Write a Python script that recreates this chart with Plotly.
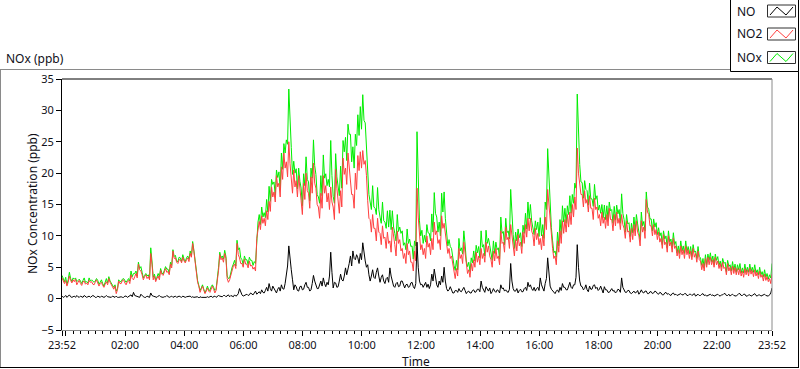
import pandas as pd
import plotly.graph_objects as go

# ---------------- data (2.5-minute readings, starting 23:52) ----------------
start_time = "2016-01-01 23:52"
step_seconds = 150

# NO2 (ppb), one row per hour (24 readings)
no2_ppb = [
    3.3, 2.8, 2.4, 2.9, 2.0, 2.6, 3.6, 2.9, 2.5, 3.0, 2.7, 3.1, 2.2, 2.6, 2.9, 2.4, 2.1, 2.7, 2.8, 2.3, 2.5, 2.2, 2.9, 2.6,
    2.7, 2.3, 2.2, 2.6, 3.0, 2.5, 2.0, 2.4, 2.6, 2.1, 1.8, 2.3, 2.7, 2.2, 3.2, 2.6, 2.3, 1.9, 1.5, 2.0, 0.8, 1.4, 2.8, 2.4,
    2.4, 2.9, 3.0, 2.5, 2.2, 2.7, 2.9, 2.4, 3.8, 3.2, 3.0, 3.5, 4.0, 3.3, 5.5, 4.6, 4.4, 3.8, 3.0, 3.5, 3.8, 3.2, 3.5, 3.0,
    7.2, 5.5, 3.0, 3.6, 2.7, 3.2, 3.6, 3.0, 4.5, 3.9, 3.7, 4.2, 4.8, 4.2, 4.3, 3.8, 5.5, 4.9, 7.6, 6.4, 6.5, 5.8, 5.6, 6.2,
    6.2, 5.7, 6.6, 6.0, 5.7, 6.2, 6.5, 5.9, 7.2, 6.6, 8.8, 7.5, 5.8, 4.2, 2.6, 2.0, 1.0, 1.5, 2.0, 1.4, 0.8, 1.2, 1.7, 1.2,
    1.0, 1.5, 2.0, 1.5, 0.9, 1.3, 2.8, 4.5, 7.0, 6.2, 6.5, 5.8, 7.2, 6.4, 3.2, 2.6, 3.0, 3.8, 4.6, 5.2, 5.5, 4.8, 8.8, 7.0,
    6.5, 5.6, 5.6, 5.0, 6.3, 5.5, 5.5, 4.9, 6.0, 5.2, 5.3, 4.7, 5.0, 4.4, 9.6, 11.2, 12.3, 11.0, 13.2, 12.0, 12.8, 11.6, 14.0, 12.6,
    15.5, 13.9, 17.8, 16.2, 17.0, 15.4, 19.6, 17.8, 18.4, 16.2, 21.0, 19.0, 23.2, 20.8, 21.8, 19.4, 25.0, 21.5, 19.5, 16.8, 20.5, 17.8, 18.8, 16.2,
    19.6, 16.8, 15.6, 13.4, 18.4, 15.8, 20.0, 17.2, 16.8, 14.4, 19.4, 16.8, 21.6, 18.4, 17.6, 15.0, 14.6, 12.8, 16.8, 14.4, 19.6, 16.8, 18.0, 15.4,
    16.8, 14.2, 17.8, 15.4, 14.6, 12.6, 20.6, 17.6, 15.8, 13.6, 17.2, 14.6, 22.4, 19.8, 20.8, 18.2, 23.2, 20.6, 19.4, 16.6, 16.6, 14.4, 20.0, 17.4,
    22.8, 20.4, 23.4, 20.8, 23.6, 21.4, 22.0, 19.6, 15.6, 12.8, 12.6, 10.6, 13.4, 11.2, 11.2, 9.2, 12.8, 10.6, 10.4, 8.6, 11.6, 9.6, 9.8, 8.0,
    10.6, 8.8, 9.2, 7.4, 11.4, 9.4, 8.6, 6.8, 10.8, 8.8, 9.4, 7.6, 8.0, 6.4, 7.2, 5.6, 8.8, 7.0, 7.6, 5.8, 5.8, 4.4, 7.6, 6.0,
    17.6, 13.0, 9.6, 7.8, 8.6, 7.0, 8.0, 6.4, 10.0, 8.2, 8.8, 7.0, 9.6, 7.8, 12.2, 10.2, 10.8, 8.8, 9.4, 7.8, 13.2, 11.2, 12.0, 10.0,
    9.0, 7.2, 8.0, 6.4, 6.8, 5.4, 4.4, 3.2, 4.8, 3.6, 8.0, 6.4, 7.0, 5.6, 9.0, 7.4, 5.2, 4.0, 4.6, 3.4, 5.6, 4.4, 6.2, 5.0,
    7.4, 5.8, 6.8, 5.4, 8.0, 6.4, 7.2, 5.8, 9.0, 7.4, 8.4, 6.8, 6.2, 5.0, 7.6, 6.0, 8.0, 6.4, 6.8, 5.4, 10.8, 8.8, 9.0, 7.4,
    11.4, 9.4, 9.8, 8.0, 11.8, 9.8, 8.6, 6.8, 9.4, 7.6, 10.2, 8.4, 9.0, 7.2, 10.6, 8.8, 11.8, 9.8, 12.8, 10.8, 12.8, 10.8, 10.2, 8.4,
    11.2, 9.4, 10.4, 8.6, 9.6, 7.8, 10.2, 8.4, 13.0, 11.0, 17.4, 15.0, 11.8, 9.8, 8.0, 6.4, 6.8, 5.4, 9.2, 7.4, 10.8, 8.8, 12.4, 10.4,
    12.6, 10.6, 13.4, 11.4, 13.8, 11.8, 15.0, 13.0, 16.2, 14.2, 24.0, 20.0, 18.6, 16.6, 16.6, 14.6, 17.2, 15.2, 15.8, 13.8, 16.4, 14.4, 14.4, 12.6,
    16.0, 14.2, 14.6, 12.8, 13.4, 11.6, 13.8, 12.0, 13.0, 11.2, 13.4, 11.6, 14.4, 12.6, 12.6, 10.8, 13.4, 11.6, 13.8, 12.0, 12.8, 11.0, 13.4, 11.8,
    11.2, 9.6, 12.4, 10.6, 10.8, 9.0, 11.2, 9.4, 11.8, 10.0, 12.4, 10.6, 10.0, 8.4, 12.4, 10.6, 11.4, 9.6, 15.8, 13.8, 13.4, 11.6, 11.6, 10.0,
    11.8, 10.2, 11.0, 9.4, 10.6, 9.0, 9.6, 8.0, 10.2, 8.6, 9.0, 7.4, 10.0, 8.4, 9.0, 7.4, 9.6, 8.0, 8.4, 6.8, 7.8, 6.4, 8.4, 7.0,
    7.8, 6.4, 8.4, 7.0, 7.8, 6.4, 7.6, 6.2, 8.0, 6.6, 7.2, 5.8, 7.6, 6.2, 6.0, 4.6, 5.6, 4.4, 6.4, 5.0, 6.6, 5.4, 6.6, 5.4,
    6.2, 5.0, 6.6, 5.4, 6.0, 4.8, 5.6, 4.4, 5.8, 4.8, 5.0, 3.8, 5.6, 4.4, 5.0, 3.8, 5.2, 4.0, 5.0, 3.8, 4.8, 3.8, 4.8, 3.6,
    4.4, 3.4, 4.8, 3.8, 4.6, 3.6, 4.9, 3.9, 4.5, 3.5, 4.6, 3.6, 4.2, 3.2, 4.4, 3.4, 3.8, 2.8, 3.9, 2.9, 3.5, 2.7, 3.2, 2.4,
    3.9,
]

# NO (ppb), one row per hour (24 readings)
no_ppb = [
    0.4, 0.2, 0.3, 0.5, 0.2, 0.4, 0.6, 0.3, 0.2, 0.3, 0.4, 0.2, 0.5, 0.3, 0.2, 0.4, 0.3, 0.2, 0.5, 0.3, 0.2, 0.3, 0.4, 0.2,
    0.3, 0.5, 0.4, 0.2, 0.2, 0.4, 0.3, 0.2, 0.4, 0.3, 0.2, 0.3, 0.5, 0.3, 0.3, 0.2, 0.2, 0.4, 0.3, 0.2, 0.4, 0.2, 0.2, 0.3,
    0.3, 0.2, 0.2, 0.4, 0.4, 0.2, 0.3, 0.4, 0.6, 0.3, 1.0, 0.5, 0.4, 0.3, 0.3, 0.2, 0.7, 0.4, 0.3, 0.2, 0.2, 0.4, 0.3, 0.2,
    0.9, 0.5, 0.4, 0.3, 0.3, 0.2, 0.4, 0.5, 0.3, 0.2, 0.2, 0.3, 0.3, 0.5, 0.4, 0.2, 0.3, 0.4, 0.2, 0.3, 0.4, 0.2, 0.3, 0.4,
    0.3, 0.2, 0.4, 0.3, 0.2, 0.3, 0.3, 0.4, 0.4, 0.2, 0.3, 0.2, 0.2, 0.3, 0.3, 0.1, 0.3, 0.2, 0.2, 0.1, 0.1, 0.2, 0.3, 0.2,
    0.3, 0.4, 0.2, 0.3, 0.4, 0.2, 0.3, 0.5, 0.4, 0.3, 0.3, 0.5, 0.5, 0.3, 0.4, 0.6, 0.3, 0.5, 0.4, 0.3, 0.6, 0.4, 0.5, 0.8,
    1.6, 0.9, 0.6, 0.4, 0.5, 0.7, 0.7, 0.5, 0.6, 0.9, 0.8, 0.6, 0.9, 1.2, 0.7, 1.0, 1.1, 0.8, 1.4, 1.0, 0.9, 1.3, 1.8, 1.2,
    2.4, 1.6, 1.2, 2.0, 1.6, 1.1, 0.9, 1.5, 1.8, 1.2, 2.2, 1.6, 1.5, 2.4, 3.5, 5.2, 8.4, 6.0, 4.6, 3.0, 1.4, 2.2, 1.9, 1.3,
    1.2, 1.9, 2.0, 1.4, 1.5, 2.2, 2.6, 1.8, 1.8, 1.2, 1.4, 2.4, 3.7, 2.8, 2.2, 1.6, 1.6, 2.4, 2.8, 2.0, 3.3, 2.4, 1.9, 2.6,
    2.2, 3.6, 7.4, 4.2, 1.7, 2.6, 2.5, 1.8, 1.9, 2.8, 3.9, 3.0, 2.8, 3.6, 4.9, 3.8, 4.6, 5.6, 6.8, 5.2, 7.6, 6.4, 6.2, 7.0,
    6.5, 5.6, 7.2, 6.2, 8.9, 7.0, 6.0, 5.0, 5.4, 3.8, 2.8, 3.6, 4.6, 3.4, 3.2, 4.2, 4.9, 3.6, 2.6, 3.4, 3.8, 2.8, 2.4, 3.2,
    3.4, 2.6, 4.9, 3.6, 2.6, 2.0, 1.8, 2.4, 2.6, 1.9, 2.0, 2.8, 2.8, 2.1, 1.7, 2.2, 2.3, 1.8, 1.9, 2.5, 2.6, 1.9, 1.6, 2.4,
    9.0, 5.0, 2.8, 2.2, 2.3, 1.8, 2.1, 2.6, 1.8, 2.3, 1.6, 2.2, 3.9, 2.8, 4.7, 3.4, 2.2, 1.8, 2.8, 2.2, 3.6, 2.6, 5.0, 2.8,
    1.6, 1.2, 1.4, 1.9, 1.2, 0.9, 0.9, 1.3, 1.3, 1.0, 1.6, 1.2, 1.1, 1.5, 1.8, 1.3, 0.8, 1.1, 1.2, 0.9, 0.9, 1.3, 1.4, 1.0,
    1.1, 1.5, 1.5, 1.1, 2.8, 1.8, 1.4, 1.0, 1.9, 1.4, 1.2, 1.7, 0.8, 1.1, 1.6, 1.2, 1.0, 1.4, 1.3, 0.9, 2.2, 1.6, 1.7, 1.2,
    1.4, 1.1, 1.0, 1.5, 5.6, 2.8, 1.6, 1.2, 1.2, 1.6, 0.9, 1.3, 1.5, 1.1, 1.1, 1.6, 1.8, 1.3, 2.6, 1.9, 2.2, 1.6, 1.3, 1.8,
    1.2, 1.6, 1.8, 1.3, 3.3, 2.2, 1.6, 1.2, 2.4, 3.2, 6.5, 4.2, 2.0, 1.5, 1.2, 0.9, 0.8, 1.2, 1.4, 1.0, 1.8, 1.3, 2.4, 1.8,
    1.8, 1.4, 1.4, 2.0, 2.6, 1.8, 1.6, 2.2, 2.2, 3.4, 8.6, 5.0, 2.8, 2.0, 1.9, 1.4, 1.6, 2.2, 1.4, 1.1, 2.0, 1.5, 1.5, 2.1,
    2.2, 1.6, 1.8, 1.3, 1.5, 2.0, 1.2, 0.9, 1.9, 1.4, 1.4, 1.0, 1.0, 1.4, 1.6, 1.2, 1.3, 0.9, 1.1, 1.5, 1.4, 1.0, 3.3, 1.8,
    1.4, 1.0, 1.0, 1.3, 1.3, 0.9, 0.8, 1.1, 1.2, 0.9, 1.0, 1.3, 0.7, 1.0, 1.4, 1.0, 0.9, 1.2, 1.2, 0.8, 0.8, 1.1, 1.1, 0.8,
    0.9, 1.2, 1.1, 0.8, 0.7, 1.0, 0.9, 0.6, 0.6, 0.9, 1.0, 0.7, 0.8, 0.6, 0.5, 0.8, 0.9, 0.6, 0.7, 0.5, 0.6, 0.8, 0.8, 0.6,
    0.6, 0.8, 0.8, 0.5, 0.5, 0.7, 0.7, 0.5, 0.6, 0.8, 0.4, 0.6, 0.7, 0.5, 0.5, 0.7, 0.8, 0.5, 0.6, 0.4, 0.5, 0.7, 0.7, 0.5,
    0.6, 0.4, 0.5, 0.7, 0.7, 0.5, 0.4, 0.6, 0.6, 0.8, 0.8, 0.5, 0.5, 0.7, 0.4, 0.6, 0.7, 0.5, 0.5, 0.4, 0.6, 0.8, 0.8, 0.5,
    0.5, 0.7, 0.7, 0.4, 0.4, 0.6, 0.6, 0.4, 0.5, 0.7, 0.8, 0.5, 0.4, 0.6, 0.6, 0.4, 0.5, 0.7, 0.7, 0.5, 0.5, 0.4, 0.6, 0.9,
    1.7,
]

# NOx is the sum of NO and NO2
nox_ppb = [round(a + b, 2) for a, b in zip(no_ppb, no2_ppb)]

series_names = ["NO", "NO2", "NOx"]
tick_times = ["2016-01-01 23:52", "2016-01-02 00:00", "2016-01-02 02:00", "2016-01-02 04:00",
              "2016-01-02 06:00", "2016-01-02 08:00", "2016-01-02 10:00", "2016-01-02 12:00",
              "2016-01-02 14:00", "2016-01-02 16:00", "2016-01-02 18:00", "2016-01-02 20:00",
              "2016-01-02 22:00", "2016-01-02 23:52"]
tick_labels = ["23:52", "", "02:00", "04:00", "06:00", "08:00", "10:00", "12:00",
               "14:00", "16:00", "18:00", "20:00", "22:00", "23:52"]
y_ticks = [-5, 0, 5, 10, 15, 20, 25, 30, 35]

# ---------------- figure ----------------
times = pd.date_range(start_time, periods=len(no_ppb), freq=f"{step_seconds}s")

W, H = 800, 369
ML, MR, MT, MB = 62, 28, 79, 39
PW, PH = W - ML - MR, H - MT - MB


def px(x):
    return (x - ML) / PW


def py(y):
    return (H - MB - y) / PH


FONT = "Noto Sans"
TXT = "#101018"
colors = {"NO": "#000000", "NO2": "#FF4040", "NOx": "#00EE00"}

fig = go.Figure()
fig.add_trace(go.Scatter(x=times, y=nox_ppb, mode="lines", name="NOx",
                         line=dict(color=colors["NOx"], width=1), showlegend=False))
fig.add_trace(go.Scatter(x=times, y=no2_ppb, mode="lines", name="NO2",
                         line=dict(color=colors["NO2"], width=1), showlegend=False))
fig.add_trace(go.Scatter(x=times, y=no_ppb, mode="lines", name="NO",
                         line=dict(color=colors["NO"], width=1), showlegend=False))

fig.update_xaxes(
    type="date",
    range=[tick_times[0], tick_times[-1]],
    tickmode="array", tickvals=tick_times, ticktext=tick_labels,
    ticks="outside", ticklen=5, tickcolor="#000", tickwidth=1,
    minor=dict(ticks="outside", ticklen=3, tickcolor="#000", tickwidth=1,
               tickmode="linear", tick0="2016-01-02 00:00", dtick=900000),
    showline=True, linecolor="#8a8a8a", linewidth=1,
    showgrid=False, zeroline=False,
    tickfont=dict(family=FONT, size=11, color=TXT),
)
fig.update_yaxes(
    range=[-5, 35], tickmode="array", tickvals=y_ticks,
    ticks="outside", ticklen=5, tickcolor="#000", tickwidth=1,
    showline=True, linecolor="#000", linewidth=1,
    showgrid=False, zeroline=False,
    tickfont=dict(family=FONT, size=11, color=TXT),
)

shapes = []
# plot frame top (black) and right (grey)
shapes.append(dict(type="line", xref="paper", yref="paper", x0=0, x1=1, y0=1, y1=1,
                   line=dict(color="#000", width=1)))
shapes.append(dict(type="line", xref="paper", yref="paper", x0=1, x1=1, y0=0, y1=1,
                   line=dict(color="#8a8a8a", width=1)))
# panel frame
shapes.append(dict(type="line", xref="paper", yref="paper", x0=px(0), x1=px(730), y0=py(69.5), y1=py(69.5),
                   line=dict(color="#8a8a8a", width=1)))
shapes.append(dict(type="line", xref="paper", yref="paper", x0=px(0.5), x1=px(0.5), y0=py(69.5), y1=py(367.5),
                   line=dict(color="#8a8a8a", width=1)))
shapes.append(dict(type="line", xref="paper", yref="paper", x0=px(0), x1=px(798), y0=py(367.5), y1=py(367.5),
                   line=dict(color="#000", width=1)))
shapes.append(dict(type="line", xref="paper", yref="paper", x0=px(798.5), x1=px(798.5), y0=py(0), y1=py(368),
                   line=dict(color="#000", width=1)))
# legend box
shapes.append(dict(type="rect", xref="paper", yref="paper", x0=px(730.5), x1=px(798.5), y0=py(71.5), y1=py(-1),
                   line=dict(color="#000", width=1), fillcolor="white"))

annotations = []
legend_rows = [("NO", 11), ("NO2", 34), ("NOx", 57.5)]
for name, cy in legend_rows:
    annotations.append(dict(text=name, xref="paper", yref="paper", x=px(735), y=py(cy),
                            xanchor="left", yanchor="middle", showarrow=False,
                            font=dict(family=FONT, size=12, color=TXT)))
    shapes.append(dict(type="rect", xref="paper", yref="paper",
                       x0=px(767.5), x1=px(795.5), y0=py(cy + 6), y1=py(cy - 6),
                       line=dict(color="#303030", width=1), fillcolor="white"))
    path = "M {} {} L {} {} L {} {} L {} {}".format(
        px(770), py(cy + 4), px(777), py(cy - 4), px(786), py(cy + 4), px(793), py(cy - 4))
    shapes.append(dict(type="path", xref="paper", yref="paper", path=path,
                       line=dict(color=colors[name], width=1)))

annotations.append(dict(text="NOx (ppb)", xref="paper", yref="paper", x=px(4), y=py(58.5),
                        xanchor="left", yanchor="middle", showarrow=False,
                        font=dict(family=FONT, size=12, color=TXT)))
annotations.append(dict(text="Time", xref="paper", yref="paper", x=px(416), y=py(361),
                        xanchor="center", yanchor="middle", showarrow=False,
                        font=dict(family=FONT, size=12, color=TXT)))
annotations.append(dict(text="NOx Concentration (ppb)", xref="paper", yref="paper", x=px(32), y=py(204),
                        xanchor="center", yanchor="middle", showarrow=False, textangle=-90,
                        font=dict(family=FONT, size=12, color=TXT)))

fig.update_layout(
    width=W, height=H,
    margin=dict(l=ML, r=MR, t=MT, b=MB, pad=0),
    paper_bgcolor="white", plot_bgcolor="white",
    shapes=shapes, annotations=annotations,
    showlegend=False,
)

fig.write_html("out.html",
               config={"displayModeBar": False},
               post_script="document.body.style.margin='0';document.body.style.padding='0';")
